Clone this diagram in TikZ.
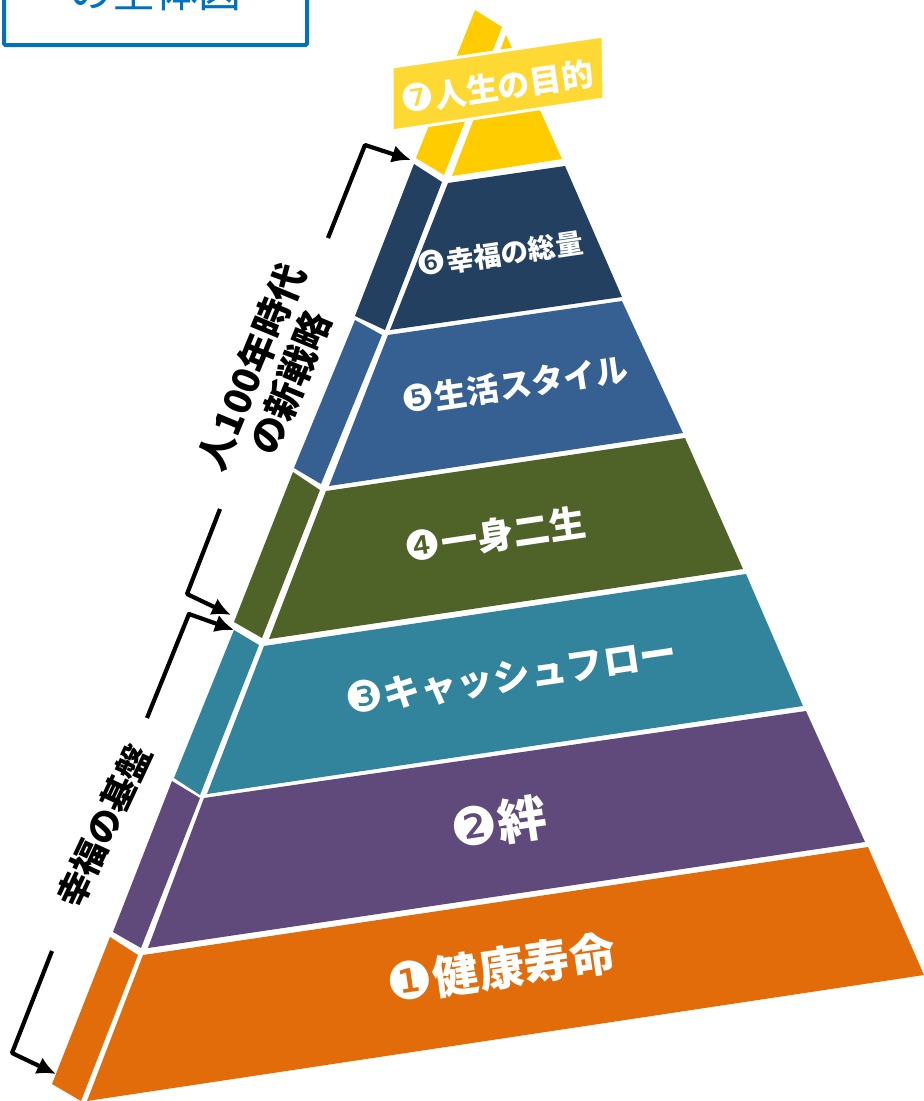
\documentclass[tikz,border=0pt]{standalone}
\usepackage{fontspec}
\setmainfont{Noto Sans CJK JP}
\newfontfamily\dv{DejaVu Sans}
\usetikzlibrary{arrows.meta}
\definecolor{cOrange}{HTML}{E36C0A}
\definecolor{cPurple}{HTML}{604A7B}
\definecolor{cTeal}{HTML}{31849B}
\definecolor{cGreen}{HTML}{4F6228}
\definecolor{cBlue}{HTML}{376092}
\definecolor{cNavy}{HTML}{244061}
\definecolor{cGold}{HTML}{FFCC00}
\definecolor{cBanner}{HTML}{FFD933}
\definecolor{cFrame}{HTML}{0070C0}
\newcommand{\lab}[4]{{\dv\fontsize{#2}{#2}\selectfont #1}{\bfseries\fontsize{#4}{#4}\selectfont #3}}
\tikzset{
  face/.style={draw=none},
  lvl/.style={text=white,inner sep=0pt,rotate=8.4,anchor=center},
  side/.style={text=black,inner sep=0pt,anchor=center,align=center},
  bracket/.style={draw=black,line width=4.2pt,line join=round,-{Latex[length=19pt,width=18pt]}},
}
\begin{document}
\begin{tikzpicture}[x=1pt,y=-1pt]
\useasboundingbox (0,0) rectangle (924,1101);
\clip (0,0) rectangle (924,1101);
% frame
\node[draw=cFrame,line width=4pt,rounded corners=1.5pt,minimum width=303pt,minimum height=80pt,anchor=south west,inner sep=0pt] (frame) at (2,47) {};
\node[text=cFrame,anchor=base,inner sep=0pt,font=\fontsize{43}{43}\selectfont] (title) at (155,7) {の全体図};
% orange
\fill[cOrange,face] (52,1084) -- (110,937) -- (138,955) -- (81,1101) -- cycle;
\fill[cOrange,face] (87,1101) -- (143,955) -- (868,847) -- (924,975) -- cycle;
% purple
\fill[cPurple,face] (113,932) -- (172,781) -- (200,798) -- (141,948) -- cycle;
\fill[cPurple,face] (148,948) -- (204,798) -- (806,711) -- (865,842) -- cycle;
% teal
\fill[cTeal,face] (174,778) -- (234,630) -- (259,645) -- (200,795) -- cycle;
\fill[cTeal,face] (207,794) -- (264,646) -- (746,574) -- (803,706) -- cycle;
% green
\fill[cGreen,face] (234,622) -- (293,472) -- (320,490) -- (262,638) -- cycle;
\fill[cGreen,face] (269,639) -- (326,491) -- (685,438) -- (743,569) -- cycle;
% blue
\fill[cBlue,face] (294,468) -- (355,320) -- (382,335) -- (321,484) -- cycle;
\fill[cBlue,face] (329,486) -- (388,335) -- (622,301) -- (683,433) -- cycle;
% navy
\fill[cNavy,face] (355,316) -- (414,164) -- (442,182) -- (385,330) -- cycle;
\fill[cNavy,face] (390,330) -- (448,183) -- (565,166) -- (622,297) -- cycle;
% gold
\fill[cGold,face] (416,158) -- (475,10) -- (502,27) -- (444,175) -- cycle;
\fill[cGold,face] (452,176) -- (506,35) -- (562,159) -- cycle;
\filldraw[fill=cBanner,draw=white,line width=3pt] (392,67) -- (603,36) -- (604,99) -- (392,131) -- cycle;
% labels
\node[lvl] (l7) at (497,87) {\lab{❼}{38}{人生の目的}{32}};
\node[lvl] (l6) at (500,254) {\lab{❻}{33}{幸福の総量}{27.5}};
\node[lvl] (l5) at (515,385) {\lab{❺}{37}{生活スタイル}{32.5}};
\node[lvl] (l4) at (495,535) {\lab{❹}{41}{一身二生}{36.5}};
\node[lvl] (l3) at (511,676) {\lab{❸}{43}{キャッシュフロー}{37}};
\node[lvl] (l2) at (499,823) {\lab{❷}{53}{絆}{49}};
\node[lvl] (l1) at (501,968) {\lab{❶}{52}{健康寿命}{46}};
\node[side,rotate=67.5,font=\bfseries\fontsize{37.5}{42}\selectfont] (s1) at (271,375) {人100年時代\\の新戦略\hspace{6pt}};
\node[side,rotate=65,font=\bfseries\fontsize{35}{35}\selectfont] (s2) at (104,826) {幸福の基盤};
% brackets
\coordinate (a1) at (328,238); \coordinate (a1c) at (365,145); \coordinate (a1e) at (411,160);
\coordinate (a2) at (220,509); \coordinate (a2c) at (187,594); \coordinate (a2e) at (231,615);
\coordinate (a3) at (147,718); \coordinate (a3c) at (189,614); \coordinate (a3e) at (234,630);
\coordinate (a4) at (52,951); \coordinate (a4c) at (12,1053); \coordinate (a4e) at (56,1074);
\draw[bracket] (a1) -- (a1c) -- (a1e);
\draw[bracket] (a2) -- (a2c) -- (a2e);
\draw[bracket] (a3) -- (a3c) -- (a3e);
\draw[bracket] (a4) -- (a4c) -- (a4e);
\end{tikzpicture}
\end{document}
